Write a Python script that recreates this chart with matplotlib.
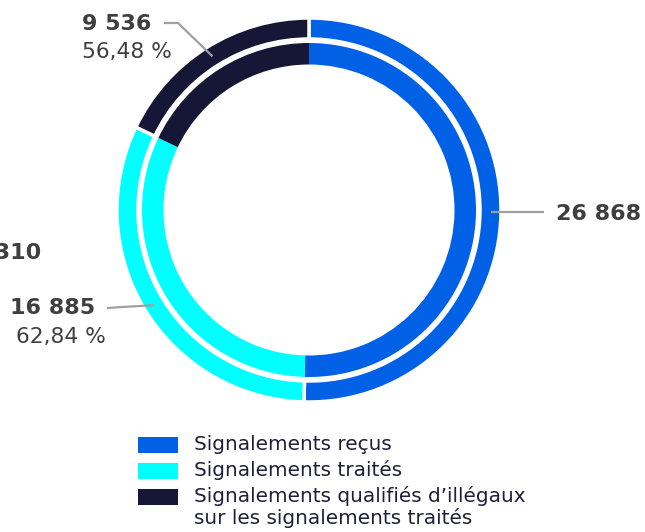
import numpy as np
import matplotlib
matplotlib.use("Agg")
from matplotlib import pyplot as plt, patches

# data
categories = ["Signalements reçus", "Signalements traités",
              "Signalements qualifiés d’illégaux\nsur les signalements traités"]
values = [26868, 16885, 9536]
value_labels = ["26 868", "16 885", "9 536"]
pct_labels = [None, "62,84 %", "56,48 %"]
inner_values = [26868, 16885, 9536]
cut_label = "16 310"

colors = ["#0061E6", "#00FFFF", "#161636"]
txt_color = "#3f3f3f"
leg_color = "#1e1e38"
line_color = "#a0a0a0"

W, H = 645, 532
fig = plt.figure(figsize=(W / 100, H / 100), dpi=100)
ax = fig.add_axes([0, 0, 1, 1])
ax.set_aspect("equal")
ax.axis("off")

cx, cy = 309, H - 210
r_out, w_out = 192, 21
r_in, w_in = 167, 21.5

outer, _ = ax.pie(values, colors=colors, startangle=90, counterclock=False,
                  radius=r_out, center=(cx, cy),
                  wedgeprops=dict(width=w_out, edgecolor="white", linewidth=2.5))
inner, _ = ax.pie(inner_values, colors=colors, startangle=90, counterclock=False,
                  radius=r_in, center=(cx, cy),
                  wedgeprops=dict(width=w_in, linewidth=0))
ax.set_xlim(0, W)
ax.set_ylim(0, H)


def ring_point(w, r):
    a = np.deg2rad((w.theta1 + w.theta2) / 2)
    return cx + r * np.cos(a), cy + r * np.sin(a)


def Y(y):  # y measured from top of the image
    return H - y


r_mid = r_out - w_out / 2 + 1

# received
px, py = ring_point(outer[0], r_mid)
ax.plot([px, 544], [py, py], color=line_color, lw=1.6, solid_capstyle="butt")
ax.text(556, py - 2, value_labels[0], ha="left", va="center", fontsize=16,
        fontweight="bold", color=txt_color)

# treated
px, py = ring_point(outer[1], r_mid)
ax.plot([px, 122, 108], [py, Y(307), Y(308)], color=line_color, lw=1.6)
ax.text(10, Y(308), value_labels[1], ha="left", va="center", fontsize=16,
        fontweight="bold", color=txt_color)
ax.text(16, Y(337), pct_labels[1], ha="left", va="center", fontsize=15.7,
        color=txt_color)

# illegal
px, py = ring_point(outer[2], r_mid)
ax.plot([px, 178, 165], [py, Y(23), Y(23)], color=line_color, lw=1.6)
ax.text(82, Y(24), value_labels[2], ha="left", va="center", fontsize=16,
        fontweight="bold", color=txt_color)
ax.text(82, Y(52), pct_labels[2], ha="left", va="center", fontsize=15.7,
        color=txt_color)

# inner ring label, mostly off the canvas as in the original
ax.text(41, Y(253), cut_label, ha="right", va="center", fontsize=16,
        fontweight="bold", color=txt_color)

# legend
rows = [444, 470, 496]
for w, lab, yy in zip(outer, categories, rows):
    ax.add_patch(patches.Rectangle((138, Y(yy + 1) - 8), 40, 16,
                                   color=w.get_facecolor(), lw=0))
    first, *rest = lab.split("\n")
    ax.text(194, Y(yy), first, ha="left", va="center", fontsize=14.4,
            color=leg_color)
    for k, extra in enumerate(rest):
        ax.text(194, Y(yy + 22 * (k + 1)), extra, ha="left", va="center",
                fontsize=14.4, color=leg_color)

fig.savefig("out.png", dpi=100)
